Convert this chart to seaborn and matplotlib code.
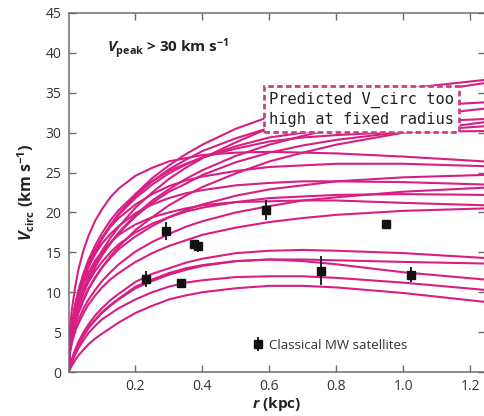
import numpy as np
import pandas as pd
import matplotlib
matplotlib.use("Agg")
import matplotlib.pyplot as plt
import seaborn as sns

# ---------------- data ----------------
r_kpc = [0, 0.005, 0.01, 0.02, 0.03, 0.045, 0.06, 0.08, 0.1, 0.125, 0.15,
         0.2, 0.25, 0.3, 0.35, 0.4, 0.5, 0.6, 0.7, 0.8, 1.0, 1.24]

# high group
v_h1 = [0, 3.9, 5.6, 7.8, 9.5, 11.6, 13.2, 15.1, 16.7, 18.4, 19.8, 22.3, 24.3, 25.9, 27.3, 28.5, 30.5, 32.0, 33.2, 34.2, 35.5, 36.6]
v_h2 = [0, 3.5, 5.0, 7.1, 8.6, 10.5, 12.0, 13.7, 15.2, 16.8, 18.2, 20.6, 22.5, 24.2, 25.6, 26.8, 28.8, 30.6, 31.9, 33.0, 34.7, 36.2]
v_h3 = [0, 4.0, 5.7, 7.9, 9.6, 11.7, 13.3, 15.2, 16.7, 18.4, 19.8, 22.1, 23.9, 25.4, 26.6, 27.7, 29.3, 30.6, 31.5, 32.2, 33.2, 33.8]
v_h4 = [0, 3.4, 4.9, 6.8, 8.3, 10.1, 11.6, 13.2, 14.6, 16.1, 17.5, 19.7, 21.5, 22.9, 24.2, 25.3, 27.1, 28.5, 29.6, 30.6, 31.9, 33.0]
v_h5 = [0, 4.1, 5.7, 8.0, 9.8, 11.8, 13.5, 15.2, 16.8, 18.3, 19.7, 21.8, 23.5, 24.9, 26.0, 26.9, 28.3, 29.4, 30.0, 30.6, 31.3, 31.7]
v_h6 = [0, 3.1, 4.3, 6.1, 7.4, 9.0, 10.4, 11.8, 13.1, 14.5, 15.7, 17.8, 19.4, 20.9, 22.1, 23.2, 24.9, 26.4, 27.5, 28.5, 30.0, 31.3]
v_h7 = [0, 3.5, 4.9, 6.9, 8.4, 10.2, 11.7, 13.3, 14.7, 16.2, 17.4, 19.5, 21.2, 22.6, 23.6, 24.7, 26.3, 27.5, 28.4, 29.1, 30.1, 30.8]
v_h8 = [0, 4.3, 6.1, 8.5, 10.3, 12.4, 14.1, 15.9, 17.4, 19.0, 20.3, 22.3, 23.9, 25.2, 26.1, 26.9, 28.0, 28.9, 29.4, 29.7, 30.1, 30.2]
# middle group
v_m1 = [0, 5.6, 7.8, 10.7, 12.9, 15.3, 17.1, 19.0, 20.4, 21.9, 23.0, 24.6, 25.6, 26.4, 26.8, 27.2, 27.5, 27.6, 27.5, 27.4, 27.0, 26.4]
v_m2 = [0, 4.3, 6.0, 8.4, 10.1, 12.2, 13.8, 15.4, 16.8, 18.2, 19.3, 21.0, 22.3, 23.3, 24.0, 24.5, 25.2, 25.7, 25.9, 26.1, 26.1, 25.8]
v_m3 = [0, 3.2, 4.5, 6.3, 7.6, 9.2, 10.5, 11.9, 13.1, 14.3, 15.4, 17.0, 18.3, 19.4, 20.3, 21.0, 22.1, 22.9, 23.4, 23.9, 24.4, 24.7]
v_m4 = [0, 4.2, 5.9, 8.2, 9.8, 11.7, 13.2, 14.8, 16.1, 17.3, 18.3, 19.9, 21.0, 21.8, 22.4, 22.8, 23.4, 23.7, 23.9, 23.9, 23.8, 23.5]
v_m5 = [0, 2.7, 3.9, 5.4, 6.6, 8.0, 9.1, 10.3, 11.4, 12.5, 13.5, 15.1, 16.3, 17.3, 18.2, 18.9, 20.0, 20.8, 21.5, 21.9, 22.6, 23.1]
v_m6 = [0, 3.5, 4.9, 6.9, 8.3, 9.9, 11.3, 12.7, 13.8, 15.0, 16.0, 17.5, 18.6, 19.4, 20.1, 20.6, 21.3, 21.8, 22.0, 22.2, 22.3, 22.2]
v_m7 = [0, 4.0, 5.6, 7.8, 9.4, 11.2, 12.5, 14.0, 15.1, 16.2, 17.2, 18.5, 19.4, 20.0, 20.5, 20.9, 21.3, 21.4, 21.5, 21.5, 21.2, 20.9]
v_m8 = [0, 2.6, 3.6, 5.1, 6.1, 7.4, 8.5, 9.6, 10.6, 11.6, 12.4, 13.8, 14.9, 15.8, 16.5, 17.2, 18.1, 18.8, 19.3, 19.7, 20.2, 20.5]
# low group
v_l1 = [0, 0.9, 1.6, 2.8, 3.8, 5.0, 6.0, 7.1, 8.0, 9.0, 9.8, 11.3, 12.3, 13.0, 13.7, 14.2, 14.9, 15.2, 15.3, 15.2, 14.9, 14.3]
v_l2 = [0, 0.8, 1.5, 2.6, 3.5, 4.6, 5.6, 6.6, 7.5, 8.4, 9.2, 10.7, 11.6, 12.4, 13.0, 13.4, 13.9, 14.1, 14.1, 14.0, 13.8, 13.6]
v_l3 = [0, 0.8, 1.4, 2.5, 3.4, 4.5, 5.5, 6.5, 7.4, 8.3, 9.1, 10.5, 11.4, 12.2, 12.8, 13.3, 13.9, 14.1, 13.9, 13.5, 12.5, 11.6]
v_l4 = [0, 0.7, 1.2, 2.2, 3.0, 4.0, 4.9, 5.8, 6.6, 7.3, 8.0, 9.1, 10.0, 10.7, 11.2, 11.5, 11.9, 12.0, 12.0, 11.8, 11.2, 10.3]
v_l5 = [0, 0.4, 0.8, 1.5, 2.1, 2.8, 3.5, 4.2, 4.8, 5.5, 6.2, 7.4, 8.3, 9.1, 9.6, 10.0, 10.5, 10.8, 10.8, 10.6, 9.9, 8.8]

# classical MW satellites
sat_r = [0.232, 0.290, 0.335, 0.375, 0.388, 0.590, 0.753, 0.947, 1.023]
sat_v = [11.7, 17.7, 11.2, 16.1, 15.8, 20.3, 12.7, 18.5, 12.2]
sat_err = [1.0, 1.1, 0.4, 0.5, 0.7, 1.3, 1.8, 0.3, 0.9]

x_ticks = [0.2, 0.4, 0.6, 0.8, 1.0, 1.2]
y_ticks = [0, 5, 10, 15, 20, 25, 30, 35, 40, 45]

curves = {"h1": v_h1, "h2": v_h2, "h3": v_h3, "h4": v_h4, "h5": v_h5,
          "h6": v_h6, "h7": v_h7, "h8": v_h8, "m1": v_m1, "m2": v_m2,
          "m3": v_m3, "m4": v_m4, "m5": v_m5, "m6": v_m6, "m7": v_m7,
          "m8": v_m8, "l1": v_l1, "l2": v_l2, "l3": v_l3, "l4": v_l4,
          "l5": v_l5}
df = pd.DataFrame([{"halo": k, "r": rr, "v": vv}
                   for k, vals in curves.items() for rr, vv in zip(r_kpc, vals)])

# ---------------- style ----------------
sns.set_theme(style="ticks")
plt.rcParams["font.family"] = ["Open Sans", "DejaVu Sans"]
plt.rcParams["mathtext.fontset"] = "custom"
plt.rcParams["mathtext.it"] = "Open Sans:italic:bold"
plt.rcParams["mathtext.bf"] = "Open Sans:bold"
plt.rcParams["mathtext.rm"] = "Open Sans:bold"

MAG = "#D81E82"
AXC = "#6e6e6e"

fig = plt.figure(figsize=(4.84, 4.16), dpi=100)
ax = fig.add_axes([68.5 / 484, 44 / 416, 417 / 484, 359 / 416])

sns.lineplot(data=df, x="r", y="v", units="halo", estimator=None,
             color=MAG, lw=1.5, ax=ax, legend=False, sort=False)

eb = ax.errorbar(sat_r, sat_v, yerr=sat_err, fmt="s", color="#111111",
                 ms=6, elinewidth=1.3, capsize=0, zorder=5,
                 label="Classical MW satellites")

ax.set_xlim(0, 1.245)
ax.set_ylim(0, 45)
ax.set_xticks(x_ticks)
ax.set_xticklabels([f"{t:.1f}" for t in x_ticks])
ax.set_yticks(y_ticks)

for s in ax.spines.values():
    s.set_color(AXC)
    s.set_linewidth(1.1)
    s.set_visible(True)
ax.tick_params(direction="in", length=5, width=1.0, color=AXC,
               top=True, right=True, labelsize=10, labelcolor="#333333", pad=5)

ax.set_xlabel(r"$r$ (kpc)", fontsize=11, fontweight="bold", color="#222222", labelpad=1)
ax.set_ylabel(r"$V_{\mathbf{circ}}$ (km s$^{-1}$)", fontsize=11.5,
              fontweight="bold", color="#222222", labelpad=6)

ax.text(0.115, 40.5, r"$V_{\mathbf{peak}}$ > 30 km s$^{-1}$", fontsize=11,
        fontweight="bold", color="#222222", ha="left", va="center")

ax.text(0.875, 32.9, "Predicted V_circ too\nhigh at fixed radius",
        family="DejaVu Sans Mono", fontsize=11.1, color="#222222",
        ha="center", va="center", linespacing=1.3, zorder=6,
        bbox=dict(boxstyle="square,pad=0.3", fc="white", ec="#C4447F",
                  lw=2.0, ls=(0, (2.0, 1.2))))

leg = ax.legend(handles=[eb], loc="center left", bbox_to_anchor=(0.425, 0.075),
                frameon=False, fontsize=9.5, handlelength=0.8, handletextpad=0.5,
                borderpad=0)
for t in leg.get_texts():
    t.set_color("#333333")

fig.savefig("out.png", dpi=100)
